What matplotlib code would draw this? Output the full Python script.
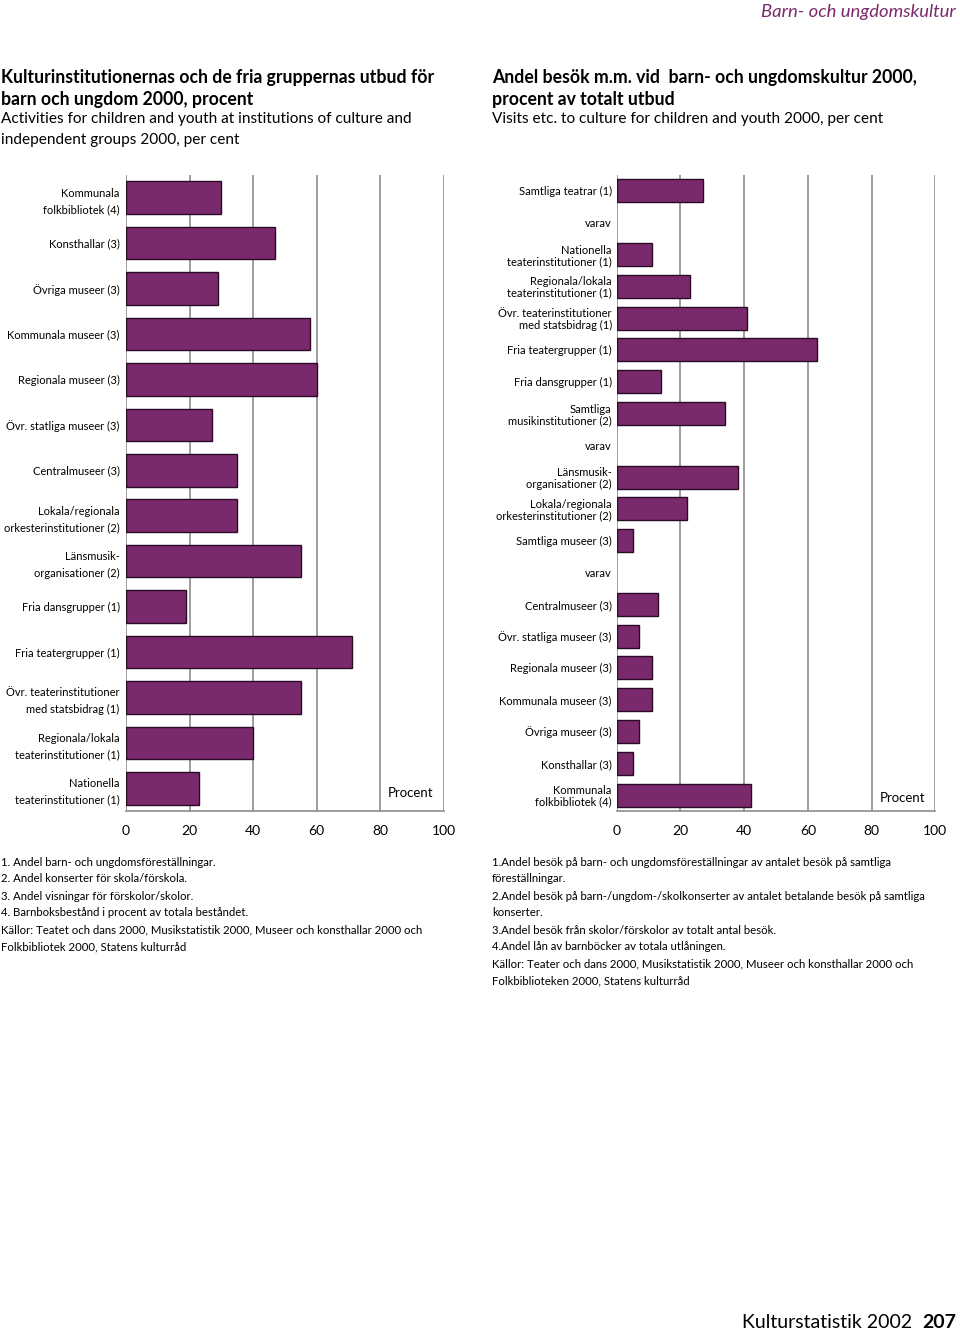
import matplotlib
matplotlib.use("Agg")
import matplotlib.pyplot as plt

plt.rcParams['font.family'] = ['Lato', 'DejaVu Sans']

# left chart: utbud, top to bottom
left_labels = ["Kommunala\nfolkbibliotek (4)", "Konsthallar (3)", "Övriga museer (3)",
               "Kommunala museer (3)", "Regionala museer (3)", "Övr. statliga museer (3)",
               "Centralmuseer (3)", "Lokala/regionala\norkesterinstitutioner (2)",
               "Länsmusik-\norganisationer (2)", "Fria dansgrupper (1)",
               "Fria teatergrupper (1)", "Övr. teaterinstitutioner\nmed statsbidrag (1)",
               "Regionala/lokala\nteaterinstitutioner (1)", "Nationella\nteaterinstitutioner (1)"]
left_values = [30, 47, 29, 58, 60, 27, 35, 35, 55, 19, 71, 55, 40, 23]

# right chart: besök, top to bottom (None = "varav" row without bar)
right_labels = ["Samtliga teatrar (1)", "varav", "Nationella\nteaterinstitutioner (1)",
                "Regionala/lokala\nteaterinstitutioner (1)",
                "Övr. teaterinstitutioner\nmed statsbidrag (1)", "Fria teatergrupper (1)",
                "Fria dansgrupper (1)", "Samtliga\nmusikinstitutioner (2)", "varav",
                "Länsmusik-\norganisationer (2)", "Lokala/regionala\norkesterinstitutioner (2)",
                "Samtliga museer (3)", "varav", "Centralmuseer (3)", "Övr. statliga museer (3)",
                "Regionala museer (3)", "Kommunala museer (3)", "Övriga museer (3)",
                "Konsthallar (3)", "Kommunala\nfolkbibliotek (4)"]
right_values = [27, None, 11, 23, 41, 63, 14, 34, None, 38, 22, 5, None,
                13, 7, 11, 11, 7, 5, 42]

ticks = [0, 20, 40, 60, 80, 100]

left_notes = ["1. Andel barn- och ungdomsföreställningar.",
              "2. Andel konserter för skola/förskola.",
              "3. Andel visningar för förskolor/skolor.",
              "4. Barnboksbestånd i procent av totala beståndet.",
              "Källor: Teatet och dans 2000, Musikstatistik 2000, Museer och konsthallar 2000 och",
              "Folkbibliotek 2000, Statens kulturråd"]
right_notes = ["1.Andel besök på barn- och ungdomsföreställningar av antalet besök på samtliga",
               "föreställningar.",
               "2.Andel besök på barn-/ungdom-/skolkonserter av antalet betalande besök på samtliga",
               "konserter.",
               "3.Andel besök från skolor/förskolor av totalt antal besök.",
               "4.Andel lån av barnböcker av totala utlåningen.",
               "Källor: Teater och dans 2000, Musikstatistik 2000, Museer och konsthallar 2000 och",
               "Folkbiblioteken 2000, Statens kulturråd"]

purple = '#7a2a6c'
grid = '#8c8c8c'

fig = plt.figure(figsize=(9.6, 13.31), dpi=100)


def bar_panel(rect, labels, values, lsize, lspacing, pad):
    ax = fig.add_axes(rect)
    n = len(labels)
    ys = list(range(n))
    for y, v in zip(ys, values):
        if v is not None:
            ax.barh(y, v, height=0.72, color=purple, edgecolor='#2a0a25', linewidth=1.0, zorder=3)
    ax.set_ylim(n - 0.5, -0.5)
    ax.set_xlim(0, 100)
    ax.set_yticks(ys)
    ax.set_yticklabels(labels, fontsize=lsize, linespacing=lspacing, ha='right')
    ax.set_xticks(ticks)
    ax.set_xticklabels([str(t) for t in ticks], fontsize=10)
    ax.tick_params(length=0)
    ax.tick_params(axis='y', pad=pad)
    ax.tick_params(axis='x', pad=10)
    for t in ticks:
        ax.axvline(t, color=grid, lw=1.2, zorder=1)
    for s in ['top', 'right', 'left']:
        ax.spines[s].set_visible(False)
    ax.spines['bottom'].set_color(grid)
    ax.spines['bottom'].set_linewidth(1.2)
    ax.text(89.6, n - 1 + 0.1, "Procent", fontsize=9.5, ha='center', va='center')
    return ax


bar_panel([126 / 960, 1 - 811 / 1331, 318 / 960, 636 / 1331], left_labels, left_values, 8.0, 1.6, 4.5)
bar_panel([616.7 / 960, 1 - 811 / 1331, 318.6 / 960, 636 / 1331], right_labels, right_values, 8.0, 1.05, 3.5)

# header and titles
fig.text(956 / 960, 1 - 12 / 1331, "Barn- och ungdomskultur", color=purple, style='italic',
         fontsize=13.3, ha='right', va='center')

fig.text(1 / 960, 1 - 78 / 1331, "Kulturinstitutionernas och de fria gruppernas utbud för",
         fontsize=12.7, weight='bold', va='center')
fig.text(1 / 960, 1 - 99 / 1331, "barn och ungdom 2000, procent", fontsize=12.7, weight='bold', va='center')
fig.text(1 / 960, 1 - 119 / 1331, "Activities for children and youth at institutions of culture and",
         fontsize=11.1, va='center')
fig.text(1 / 960, 1 - 140 / 1331, "independent groups 2000, per cent", fontsize=11.1, va='center')

fig.text(492 / 960, 1 - 78 / 1331, "Andel besök m.m. vid  barn- och ungdomskultur 2000,",
         fontsize=12.7, weight='bold', va='center')
fig.text(492 / 960, 1 - 99 / 1331, "procent av totalt utbud", fontsize=12.7, weight='bold', va='center')
fig.text(492 / 960, 1 - 119 / 1331, "Visits etc. to culture for children and youth 2000, per cent",
         fontsize=11.1, va='center')

# footnotes
for i, line in enumerate(left_notes):
    fig.text(1 / 960, 1 - (862 + 17 * i) / 1331, line, fontsize=8.2, va='center')
for i, line in enumerate(right_notes):
    fig.text(492 / 960, 1 - (862 + 17 * i) / 1331, line, fontsize=8.2, va='center')

# footer
fig.text(912 / 960, 1 - 1322 / 1331, "Kulturstatistik 2002", fontsize=14, ha='right', va='center')
fig.text(956 / 960, 1 - 1322 / 1331, "207", fontsize=14, weight='bold', ha='right', va='center')

fig.savefig("out.png", dpi=100)
